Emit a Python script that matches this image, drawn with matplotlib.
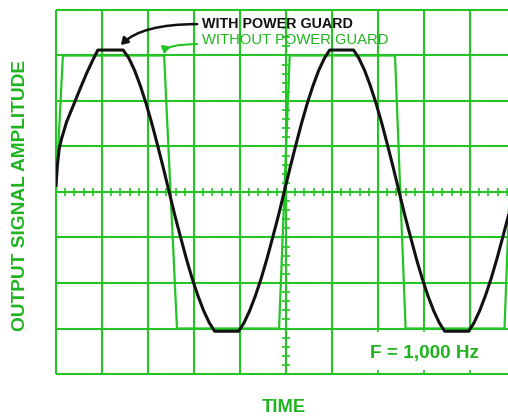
import matplotlib
matplotlib.use("Agg")
import matplotlib.pyplot as plt

# time axis in graticule divisions, amplitude in divisions
# black trace: with power guard (soft clipped sine)
with_t = [0.0, 0.03, 0.07, 0.12, 0.23, 0.38, 0.52, 0.67, 0.81, 0.91, 1.46,
          1.585, 1.71, 1.835, 1.96, 2.085, 2.21, 2.335, 2.46,
          2.585, 2.71, 2.835, 2.96, 3.085, 3.21, 3.335, 3.45, 3.97,
          4.085, 4.21, 4.335, 4.46, 4.585, 4.71, 4.835, 4.96,
          5.085, 5.21, 5.335, 5.46, 5.585, 5.71, 5.835, 5.95, 6.47,
          6.585, 6.71, 6.835, 6.96, 7.085, 7.21, 7.335, 7.46,
          7.585, 7.71, 7.835, 7.96, 8.085, 8.21, 8.335, 8.45, 8.97,
          9.085, 9.21, 9.335, 9.46, 9.585, 9.71, 9.835]
with_y = [0.15, 0.59, 0.95, 1.17, 1.54, 1.91, 2.26, 2.62, 2.92, 3.12, 3.12,
          2.94, 2.67, 2.33, 1.94, 1.50, 1.02, 0.52, 0.0,
          -0.52, -1.00, -1.47, -1.90, -2.28, -2.61, -2.88, -3.06, -3.06,
          -2.88, -2.61, -2.28, -1.90, -1.47, -1.00, -0.52, 0.0,
          0.52, 1.02, 1.50, 1.94, 2.33, 2.67, 2.94, 3.12, 3.12,
          2.94, 2.67, 2.33, 1.94, 1.50, 1.02, 0.52, 0.0,
          -0.52, -1.00, -1.47, -1.90, -2.28, -2.61, -2.88, -3.06, -3.06,
          -2.88, -2.61, -2.28, -1.90, -1.47, -1.00, -0.52]

# green trace: without power guard (square wave)
without_t = [0.0, 0.15, 2.35, 2.63, 4.85, 5.08, 7.37, 7.60, 9.75, 9.97]
without_y = [0.0, 3.0, 3.0, -3.0, -3.0, 3.0, 3.0, -3.0, -3.0, 3.0]

GREEN = '#24c424'
TEXT_GREEN = '#1fb41f'
FONT = ['Liberation Sans', 'DejaVu Sans']

fig = plt.figure(figsize=(5.08, 4.2), dpi=100)
ax = fig.add_axes([56/508, 46/420, 452/508, 364/420])
xmax = 452/46
ax.set_xlim(0, xmax)
ax.set_ylim(-4, 4)
ax.axis('off')

# graticule
ax.hlines(range(-4, 5), 0, xmax, color=GREEN, lw=1.5, clip_on=False, zorder=1)
for k in range(0, 10):
    lo = -3 if k >= 7 else -4
    ax.vlines(k, lo, 4, color=GREEN, lw=1.5, clip_on=False, zorder=1)
    if k >= 7:
        ax.vlines(k, -3.08, -2.92, color=GREEN, lw=1.2, zorder=1)
        ax.vlines(k, -4.0, -3.92, color=GREEN, lw=1.2, clip_on=False, zorder=1)

# minor ticks on the centre axes
for i in range(0, 50):
    ax.vlines(i*0.2, -0.08, 0.08, color=GREEN, lw=1.2, zorder=1)
for i in range(-20, 21):
    ax.hlines(i*0.2, 5-0.08, 5+0.08, color=GREEN, lw=1.2, zorder=1)

ax.plot(without_t, without_y, color=GREEN, lw=1.6, zorder=2)
ax.plot(with_t, with_y, color='#111111', lw=2.2, zorder=3)

# labels for the traces
ax.text(3.17, 3.69, 'WITH POWER GUARD', color='#111111', fontsize=10.3,
        fontweight='bold', family=FONT, ha='left', va='center')
ax.text(3.17, 3.35, 'WITHOUT POWER GUARD', color=TEXT_GREEN, fontsize=10.6,
        family=FONT, ha='left', va='center')
ax.annotate('', xy=(1.41, 3.23), xytext=(3.07, 3.69),
            arrowprops=dict(arrowstyle='-|>,head_length=0.4,head_width=0.25',
                            color='#111111', lw=1.8,
                            connectionstyle='angle3,angleA=0,angleB=45',
                            shrinkA=0, shrinkB=0))
ax.annotate('', xy=(2.35, 3.03), xytext=(3.07, 3.25),
            arrowprops=dict(arrowstyle='-|>,head_length=0.4,head_width=0.25',
                            color=GREEN, lw=1.5,
                            connectionstyle='angle3,angleA=0,angleB=80',
                            shrinkA=0, shrinkB=0))

ax.text(8.0, -3.56, 'F = 1,000 Hz', color=TEXT_GREEN, fontsize=13.7,
        fontweight='bold', family=FONT, ha='center', va='center')

fig.text(21/508, 1-195/420, 'OUTPUT SIGNAL AMPLITUDE', color=TEXT_GREEN,
         fontsize=13.8, fontweight='bold', family=FONT, rotation=90,
         ha='center', va='center')
fig.text(284/508, 1-408/420, 'TIME', color=TEXT_GREEN, fontsize=13.2,
         fontweight='bold', family=FONT, ha='center', va='center')

fig.savefig('out.png', dpi=100, facecolor='white')
